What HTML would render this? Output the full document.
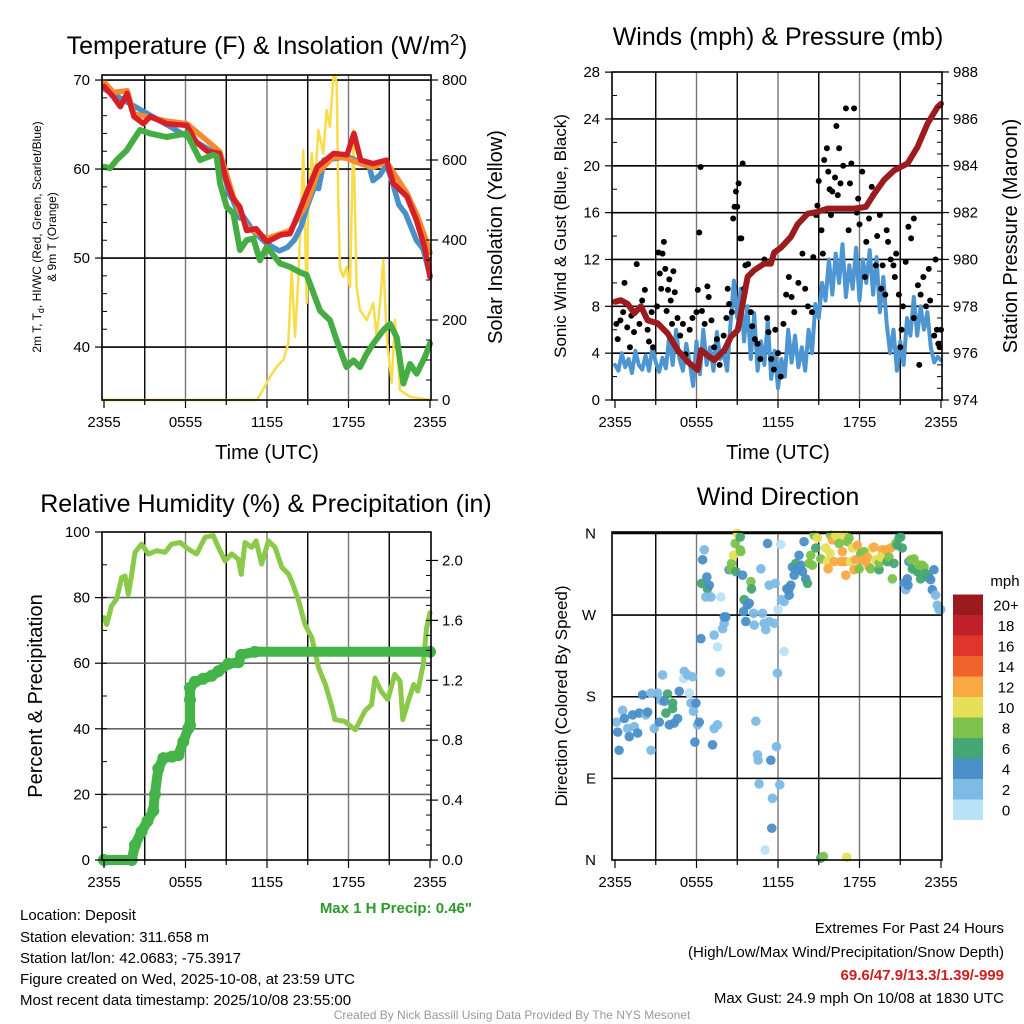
<!DOCTYPE html>
<html><head><meta charset="utf-8"><style>
body{margin:0;background:#fff}
svg{display:block;font-family:"Liberation Sans",Arial,sans-serif}
</style></head><body>
<svg id="c" width="1024" height="1024" viewBox="0 0 1024 1024">
<rect width="1024" height="1024" fill="#fff"/>
<g id="grid"></g>
<g id="marks"></g>
<g id="frames"></g>
<g font-size="25" text-anchor="middle" fill="#000">
<text x="267" y="54">Temperature (F) &amp; Insolation (W/m<tspan dy="-9" font-size="16">2</tspan><tspan dy="9">)</tspan></text>
<text x="778" y="45">Winds (mph) &amp; Pressure (mb)</text>
<text x="266" y="512">Relative Humidity (%) &amp; Precipitation (in)</text>
<text x="778" y="505">Wind Direction</text>
</g>
<g font-size="20" text-anchor="middle">
<text x="267" y="459">Time (UTC)</text>
<text x="778" y="459">Time (UTC)</text>
<text transform="translate(502,237) rotate(-90)">Solar Insolation (Yellow)</text>
<text transform="translate(1017,236) rotate(-90)">Station Pressure (Maroon)</text>
<text transform="translate(42,696) rotate(-90)">Percent &amp; Precipitation</text>
<text transform="translate(566,236) rotate(-90)" font-size="17">Sonic Wind &amp; Gust (Blue, Black)</text>
<text transform="translate(567,696) rotate(-90)" font-size="17">Direction (Colored By Speed)</text>
<text transform="translate(41,237) rotate(-90)" font-size="12">2m T, T<tspan font-size="9" dy="3">d</tspan><tspan dy="-3">, HI/WC (Red, Green, Scarlet/Blue)</tspan></text>
<text transform="translate(56,237) rotate(-90)" font-size="12">&amp; 9m T (Orange)</text>
</g>
<g font-size="15" fill="#000">
<text x="20" y="920">Location: Deposit</text>
<text x="20" y="942">Station elevation: 311.658 m</text>
<text x="20" y="963">Station lat/lon: 42.0683; -75.3917</text>
<text x="20" y="984">Figure created on Wed, 2025-10-08, at 23:59 UTC</text>
<text x="20" y="1005">Most recent data timestamp: 2025/10/08 23:55:00</text>
<text x="472" y="913" text-anchor="end" font-weight="bold" fill="#2c9a2c">Max 1 H Precip: 0.46"</text>
<text x="1004" y="933" text-anchor="end">Extremes For Past 24 Hours</text>
<text x="1004" y="957" text-anchor="end">(High/Low/Max Wind/Precipitation/Snow Depth)</text>
<text x="1004" y="980" text-anchor="end" font-weight="bold" fill="#cc2020">69.6/47.9/13.3/1.39/-999</text>
<text x="1004" y="1003" text-anchor="end">Max Gust: 24.9 mph On 10/08 at 1830 UTC</text>
<text x="512" y="1019" text-anchor="middle" font-size="12" fill="#999">Created By Nick Bassill Using Data Provided By The NYS Mesonet</text>
</g>
<g id="cbar"></g>
</svg>
<script>
// ---- data ----
const xTickLabels=["2355","0555","1155","1755","2355"];
const tempTicks=[40,50,60,70];
const insoTicks=[0,200,400,600,800];
const windTicks=[0,4,8,12,16,20,24,28];
const pressTicks=[974,976,978,980,982,984,986,988];
const rhTicks=[0,20,40,60,80,100];
const precipTicks=[0.0,0.4,0.8,1.2,1.6,2.0];
const dirTickLabels=["N","E","S","W","N"];
const dirTickValues=[0,90,180,270,360];
const speedBins=["0","2","4","6","8","10","12","14","16","18","20+"];

const tempHours=[0,0.7,1.2,1.7,2.2,2.9,3.4,4.6,6.1,6.8,7.6,8.5,9.0,9.5,10,10.5,11.2,12,13,13.7,14.2,14.9,15.7,16.9,17.9,18.4,18.9,19.8,20.8,21.3,22.3,23,23.6,24];
const tempValues=[69.3,68.1,67,68.5,65.9,65.1,65.9,65.1,64.9,63,62,61.75,58.75,56.7,55.75,53.1,53.3,51.8,52.6,52.75,54.6,57.25,60.25,61.75,61.6,64,61,60.6,61,58.4,56.9,54.25,51.25,47.9];
const t9Hours=[0,0.7,1.7,2.2,4.6,6.1,8.5,9.5,10.5,12,13.7,14.9,15.7,16.9,17.9,18.9,19.8,20.8,22.3,23,23.6,24];
const t9Values=[69.8,68.6,68.8,66.2,65.4,65.1,62,57,53.5,52.2,53.1,56,59.5,61.4,61.2,60.6,60.2,60.8,57.3,55,52.5,50.6];
const hiHours=[0,4.6,8.5,9,9.2,9.5,10,10.2,11,12,12.9,13.5,14,14.5,15,15.5,15.8,16.2,17.9,19.5,19.8,20.3,20.8,21.3,21.7,22.2,22.6,23,23.5,24];
const hiValues=[69,65,61.5,58.5,57.2,56.5,54.5,54.8,53,51.6,50.8,51.2,52,53.5,56,58,57.8,61,61.4,60.4,58.7,59.3,60.5,58.2,56,55,53.5,52,51,48];
const dewHours=[0,0.44,0.93,1.67,2.16,2.65,3.39,4.61,5.35,6.09,6.58,7.07,8.05,8.29,8.54,9.03,9.52,10.01,10.5,10.99,11.48,11.98,12.96,13.69,14.43,14.92,15.9,16.64,17.13,17.86,18.36,18.85,19.34,19.83,20.56,21.06,21.55,22.04,22.53,23.02,23.63,24];
const dewValues=[60.25,60.1,61,62.1,63.25,64.4,64,63.6,63.8,64,62.5,61,61.6,61.4,58.4,55.75,55,50.9,52,52.2,49.75,51.25,49.4,49,48.4,48.1,44.1,43,40.75,37.75,38.5,37.75,39.25,40.4,41.9,42.6,41.1,35.9,38.1,37,38.9,40.4];
const insoHours=[0,11.24,11.48,12.22,12.71,13.2,13.57,13.82,14.06,14.31,14.43,14.67,14.92,15.04,15.29,15.53,15.78,16.15,16.39,16.64,16.88,17.0,17.13,17.25,17.37,17.62,17.86,18.11,18.36,18.6,18.85,19.34,19.83,20.07,20.32,20.56,20.81,21.18,21.42,21.79,22.53,24];
const insoValues=[0,0,12,58,83,100,142,325,158,308,408,625,242,492,617,533,675,617,725,683,808,812,790,500,330,308,333,283,675,283,225,200,242,158,242,350,158,42,200,25,8,0];

const windValues=[3,2.5,4,2.8,3.5,2.3,4.2,3, 2.6,3.8,2.5,4.5,3.2,2.4,3.6,2.7, 5.5,3,6,3.5,2.5,4.8,3.2,1.2, 5,2.2,6,3,4.5,2.5,5.8,3.5, 4,2.5,6.5,10.2,7,9.5,5,8, 3.5,7.4,2.5,5,3,6.8,1.8,4.2, 1,3.5,2,6,3.2,5.5,2.8,4.5, 2.5,6,4,8.2,7,10,8.5,12, 9,12.5,10,13.3,8.8,11.5,9.5,13, 8.5,12,10,12.8,9,12.2,7.5,10.5, 6.5,4,6,2.5,5,3,7,5.5, 8.8,5.5,8,6,7.5,4.5,3.2,3.7, 3.4];
const gustHours=[0.1,0.2,0.4,0.6,0.7,0.9,1.1,1.2,1.4,1.6,1.8,2.0,2.2,2.4,2.5,2.7,2.8,3.1,3.2,3.3,3.5,3.6,3.7,3.4,3.9,4.0,4.1,4.2,4.3,4.4,4.6,3.8,4.8,5.0,5.2,5.5,5.7,6.0,6.1,6.2,6.3,6.4,6.6,6.8,6.9,7.1,7.3,7.5,7.7,8.0,8.2,8.3,8.4,8.6,8.7,8.8,8.9,9.0,9.1,9.2,9.3,9.4,9.5,9.6,9.8,10.0,10.1,10.3,10.5,10.7,11.0,11.2,11.3,11.5,11.7,11.8,12.0,12.2,12.4,12.6,12.8,13.0,13.2,13.5,13.8,14.0,14.2,14.5,14.6,14.8,14.9,15.0,15.2,15.3,15.4,15.6,15.7,15.8,15.9,16.0,16.2,16.3,16.4,16.5,16.6,16.8,17.0,17.2,17.3,17.4,17.6,17.8,17.9,18.0,18.2,18.4,18.5,18.7,18.9,19.0,19.2,19.3,19.5,19.7,19.9,20.0,20.1,20.3,20.5,20.6,20.7,20.9,21.1,21.2,21.4,21.6,21.8,22.0,22.3,22.5,22.7,22.9,23.1,23.2,23.5,23.6,23.7,23.8,24.0,23.9,22.0,22.4,19.6,21.0];
const gustValues=[6.5,5.2,6.8,7.5,10,6.2,4.5,7.2,5.8,11.6,6.5,8.5,9.4,6,5,7.5,4.5,8,12.6,10.8,12.5,13.5,11.2,9.5,9.4,10.3,8.5,6.5,11,9.2,7,7.6,5.5,6.5,3.9,6,7,7.5,9.4,14.3,19.9,7.6,6.5,9.7,8.8,6.8,4.5,5.2,3,5.5,7,9.5,8.2,7.5,15.5,16.5,17.8,16.5,18.5,13.8,13.8,20.2,9.5,11.5,11.6,7.5,6.3,5.2,4.8,3.5,12,7,5.8,3.5,2.6,6,4,2,6.5,9,10.5,8.8,7.5,10,12.5,9.5,8,7.5,12.2,15.8,16.6,18.7,14.5,12.5,20.5,21.5,19.5,18,15.8,17.8,19,23.4,17.5,21.5,18.5,20,24.9,14.5,18.5,20.2,24.9,16,17.2,15,19.5,10.5,13.5,15.5,18.2,17.5,11.5,14,15.8,11.5,9,14.5,13.5,12,11.5,10.5,12.5,9,6,8,11.8,14.8,13.8,15.5,9.8,9,10.5,8,11.2,8.5,5.5,12,6,4.8,6,4.5,7,3,9.5,4.5];
const pressHours=[0,0.44,0.93,1.42,1.91,2.4,3.14,3.88,4.61,5.35,6.08,6.33,6.82,7.31,8.05,8.54,9.03,9.27,9.76,10.25,10.99,11.48,11.72,12.21,12.95,13.44,14.18,14.91,15.65,16.63,17.61,18.47,19.08,19.82,20.55,21.54,22.27,23.01,23.74,24];
const pressValues=[978.19,978.26,978.1,977.7,978,977.4,977.27,976.84,976.13,975.63,975.28,976.13,975.9,975.7,976.13,976.7,976.98,977.7,979.26,979.54,979.82,979.82,980.3,980.5,980.96,981.5,981.95,982.03,982.17,982.17,982.17,982.24,982.8,983.4,983.8,984.1,984.8,985.8,986.5,986.64];

const rhHours=[0,0.2,0.56,0.93,1.3,1.55,1.79,2.04,2.28,2.77,3.26,3.88,4.49,4.98,5.6,6.21,6.82,7.44,8.05,8.42,8.91,9.4,9.89,10.1,10.38,10.87,11.2,11.6,12.1,12.6,13.1,13.6,13.9,14.3,14.8,15.3,15.8,16.3,16.8,17.0,17.7,18.5,19.2,19.7,19.95,20.4,20.9,21.4,21.8,22.0,22.4,22.8,23.1,23.5,23.75,24];
const rhValues=[73.9,71.8,77.5,79.5,86.1,86.6,81,87.1,93.8,96.3,93.3,94.3,93.8,96.3,96.8,94.8,93.3,98.4,98.9,95.3,91.2,93.3,91.7,87.1,96.8,95.3,97.3,90.2,97.3,95.3,89.2,87.1,84.1,79.5,71.8,67.8,58.6,53.5,46.4,42.8,42.3,39.7,45.4,47.4,55.5,51.5,48.9,56.6,54.5,42.8,48.4,53.5,51.5,59.6,70.8,75.4];
const precipHours=[0,2.04,2.28,2.77,3.2,3.63,3.75,4.0,4.37,5.0,5.47,5.84,6.21,6.33,6.33,6.33,6.7,7.3,7.93,8.42,9.15,9.9,10.1,11.1,24];
const precipValues=[0,0,0.10,0.19,0.26,0.33,0.44,0.61,0.68,0.69,0.70,0.79,0.88,0.90,1.07,1.15,1.19,1.21,1.23,1.26,1.31,1.32,1.37,1.39,1.39];

const dirHours=[0.1,0.2,0.3,0.56,0.69,0.93,1.05,1.3,1.42,1.79,1.67,2.03,2.28,2.4,2.65,2.65,2.89,3.14,3.26,3.38,3.5,3.63,3.75,3.87,4.0,4.24,4.24,4.36,4.61,4.73,5.1,5.05,5.34,5.47,5.59,5.71,5.78,5.88,5.96,6.08,6.2,6.32,6.45,6.57,6.37,6.76,6.81,6.94,6.69,7.06,7.3,7.18,7.3,7.55,7.55,7.75,7.79,7.92,8.04,8.04,8.16,8.4,8.53,8.58,8.73,8.85,8.9,9.02,9.22,9.22,9.26,9.39,9.46,9.51,9.63,9.75,9.88,10.0,10.05,10.2,10.25,10.37,10.49,10.54,10.61,10.74,10.86,10.98,11.1,11.23,11.35,11.35,11.47,11.59,11.54,11.05,11.72,11.79,11.89,11.96,12.0,12.13,12.2,12.25,12.45,12.45,12.65,12.82,12.82,12.94,13.06,13.19,13.31,13.43,13.55,13.68,13.8,13.92,14.04,14.17,14.29,14.41,14.53,14.66,14.78,14.9,15.15,15.15,15.34,15.51,15.64,15.69,15.83,15.88,16.0,16.13,16.25,16.37,16.5,16.62,16.74,16.86,16.91,16.99,17.06,17.11,17.23,17.35,17.48,17.6,17.72,17.84,17.97,18.09,18.21,18.33,18.46,18.58,18.7,18.82,18.95,19.07,19.19,19.44,19.44,19.56,19.68,19.8,19.93,20.05,20.17,20.29,20.42,20.54,20.66,20.78,20.91,21.03,21.15,21.27,21.4,21.52,21.57,21.64,21.76,21.89,22.01,22.13,22.25,22.38,22.5,22.62,22.75,22.87,22.99,23.11,23.24,23.36,23.48,23.6,23.73,23.85,23.97];
const dirDegrees=[152,141,121,165,156,145,136,160,147,162,140,182,160,163,184,121,145,184,152,176,204,175,162,183,149,173,167,151,156,186,208,200,204,184,173,202,164,130,173,149,152,244,331,342,305,312,299,303,290,290,248,127,145,149,235,207,290,255,261,268,268,320,321,327,336,349,318,360,356,342,340,314,274,287,263,281,283,307,299,272,259,153,116,110,84,321,272,261,254,349,303,263,110,68,35,11,261,305,125,206,276,83,348,287,285,230,299,299,292,303,323,314,327,321,336,325,318,351,310,305,327,336,325,358,344,355,332,2,4,344,329,321,338,358,353,329,358,356,349,329,340,358,329,314,3,351,355,329,344,320,331,347,321,338,331,340,329,334,323,321,344,345,331,320,327,334,342,336,342,329,334,344,310,327,349,347,355,356,344,305,298,310,303,329,331,321,332,320,318,325,310,325,323,316,312,312,309,298,320,292,281,276,276];
const dirSpeeds=[2,4,4,2,4,2,4,4,2,4,4,4,2,4,2,2,2,2,4,2,2,4,6,6,4,6,6,4,4,4,2,0,2,0,2,2,2,4,4,2,4,4,4,2,6,4,6,4,2,2,2,4,2,2,0,2,0,2,2,4,4,4,8,8,10,8,6,10,6,8,8,4,4,6,4,4,4,8,6,2,2,2,2,2,2,2,2,2,2,4,2,2,4,2,4,0,2,2,2,2,0,2,0,2,2,0,4,4,4,4,4,4,6,4,4,4,4,4,4,6,8,8,8,8,6,10,8,6,8,10,10,12,10,8,12,12,10,10,8,12,12,10,12,12,10,8,8,10,10,12,12,12,8,8,12,8,12,12,12,8,10,12,10,6,8,10,12,10,12,6,8,12,8,6,8,6,6,6,6,4,2,4,4,4,8,6,8,6,6,8,6,8,8,6,6,6,4,4,4,2,2,2,2];

// ---- helpers ----
const NS="http://www.w3.org/2000/svg";
const G=document.getElementById('grid'),M=document.getElementById('marks'),F=document.getElementById('frames'),CB=document.getElementById('cbar');
function el(parent,tag,attrs){const e=document.createElementNS(NS,tag);for(const k in attrs)e.setAttribute(k,attrs[k]);parent.appendChild(e);return e;}
function txt(parent,x,y,s,anchor,size){const t=el(parent,'text',{x:x,y:y,'text-anchor':anchor,'font-size':size||15});t.textContent=s;return t;}
function linePath(hs,vs,xf,yf){let d='';for(let i=0;i<hs.length;i++){d+=(i?'L':'M')+xf(hs[i]).toFixed(1)+' '+yf(vs[i]).toFixed(1);}return d;}
const speedColors=["#b8e3f6","#7dbbe6","#4a8fc7","#45a772","#7cc24b","#e6df57","#f9a944","#f0622b","#e0352b","#c0202a","#9b1a1e"];

const P=[
 {x0:102,x1:431,y0:75,y1:400,hx0:104,hx1:430},
 {x0:612,x1:942,y0:72,y1:400,hx0:615,hx1:941},
 {x0:102,x1:431,y0:532,y1:860,hx0:104,hx1:430},
 {x0:612,x1:942,y0:532,y1:860,hx0:615,hx1:941}];
function xs(p){return h=>p.hx0+h/24*(p.hx1-p.hx0);}

const yT=v=>400-(v-34.05)*8.9, yI=v=>400-v*0.4;
const yW=v=>400-v*11.71, yP=v=>400-(v-974)*23.43;
const yR=v=>860-v*3.28, yPr=v=>860-v/2.19*328;
const yD=v=>860-v*0.907;

P.forEach((p,pi)=>{
  const xf=xs(p);
  for(let k=1;k<8;k++){const x=xf(k*3);
    const g=el(G,'line',{x1:x,x2:x,y1:p.y0,y2:p.y1,stroke:k%2?'#000':'#777','stroke-width':1.4});
    
    }
  for(let k=0;k<=8;k++){const x=xf(k*3);
    el(F,'line',{x1:x,x2:x,y1:p.y1,y2:p.y1+(k%2?5:8),stroke:'#000','stroke-width':1.2});}
  xTickLabels.forEach((s,i)=>{const t=txt(F,xf(i*6),p.y1+27,s,'middle',15);
    
    });
  const r=el(F,'rect',{x:p.x0,y:p.y0,width:p.x1-p.x0,height:p.y1-p.y0,fill:'none',stroke:'#000','stroke-width':1.6});
  
  
});
function hgrid(p,vals,f,color){vals.forEach(v=>{const y=f(v);if(y<=p.y0+1||y>=p.y1-1)return;
  const g=el(G,'line',{x1:p.x0,x2:p.x1,y1:y,y2:y,stroke:color||'#000','stroke-width':1.6});
  
  });}
function yticks(p,vals,f,side,fmt,minorStep){vals.forEach(v=>{const y=f(v);
  const x=side==='l'?p.x0:p.x1;
  el(F,'line',{x1:x,x2:side==='l'?x-7:x+7,y1:y,y2:y,stroke:'#000','stroke-width':1.2});
  const t=txt(F,side==='l'?p.x0-12:p.x1+11,y+5,fmt?fmt(v):String(v),side==='l'?'end':'start',15);
  
  });
  if(minorStep){for(let v=vals[0];v<=vals[vals.length-1]+1e-9;v+=minorStep){const y=f(v);if(y<p.y0||y>p.y1)continue;
    const x=side==='l'?p.x0:p.x1;
    el(F,'line',{x1:x,x2:side==='l'?x+5:x-5,y1:y,y2:y,stroke:'#000','stroke-width':1});}}}

hgrid(P[0],tempTicks,yT);
hgrid(P[1],windTicks,yW);
hgrid(P[2],rhTicks,yR,'#666');
hgrid(P[3],dirTickValues,yD);
yticks(P[0],tempTicks,yT,'l',null,2);
yticks(P[0],insoTicks,yI,'r',null,50);
yticks(P[1],windTicks,yW,'l',null,2);
yticks(P[1],pressTicks,yP,'r',null,0.5);
yticks(P[2],rhTicks,yR,'l',null,10);
yticks(P[2],precipTicks,yPr,'r',v=>v.toFixed(1),0.1);
dirTickValues.forEach((v,i)=>{const t=txt(F,P[3].x0-16,yD(v)+5,dirTickLabels[i],'end',15);
  
  });

function series(parent,hs,vs,p,yf,color,w,name){const e=el(parent,'path',{d:linePath(hs,vs,xs(p),yf),fill:'none',stroke:color,'stroke-width':w,'stroke-linejoin':'round','stroke-linecap':'round'});
  
  return e;}

series(M,insoHours,insoValues,P[0],yI,'#f8dc4a',2.5,'insolation-line');
series(M,hiHours,hiValues,P[0],yT,'#4a90c8',5.5,'heat-index-windchill-line');
series(M,t9Hours,t9Values,P[0],yT,'#f58a2e',5.5,'temp-9m-line');
series(M,tempHours,tempValues,P[0],yT,'#d62027',5.5,'temp-2m-line');
series(M,dewHours,dewValues,P[0],yT,'#45ad43',6,'dewpoint-line');

const windHours=windValues.map((v,i)=>i*0.25);
series(M,windHours,windValues,P[1],yW,'#4d96d2',4,'sustained-wind-line');
gustHours.forEach((h,i)=>{const c=el(M,'circle',{cx:xs(P[1])(h),cy:yW(gustValues[i]),r:3,fill:'#000'});
  
  });
series(M,pressHours,pressValues,P[1],yP,'#9b1b1e',6,'pressure-line');

series(M,rhHours,rhValues,P[2],yR,'#8bc94a',5,'humidity-line');
series(M,precipHours,precipValues,P[2],yPr,'#44b348',10,'precip-line');
precipHours.forEach((h,i)=>{const c=el(M,'circle',{cx:xs(P[2])(h),cy:yPr(precipValues[i]),r:6,fill:'#44b348'});
  
  });

dirHours.forEach((h,i)=>{const ci=Math.min(10,Math.floor(dirSpeeds[i]/2));
  const c=el(M,'circle',{cx:xs(P[3])(h),cy:yD(dirDegrees[i]),r:4.8,fill:speedColors[ci],'fill-opacity':0.95});
  
  });

txt(CB,1005,586,'mph','middle',15);
speedBins.forEach((s,i)=>{const y=799.5-i*20.5;
  const r=el(CB,'rect',{x:953,y:y,width:30,height:20.5,fill:speedColors[i]});
  
  
  const t=txt(CB,1006,y+16,s,'middle',15);
  
  });
</script>
</body></html>
